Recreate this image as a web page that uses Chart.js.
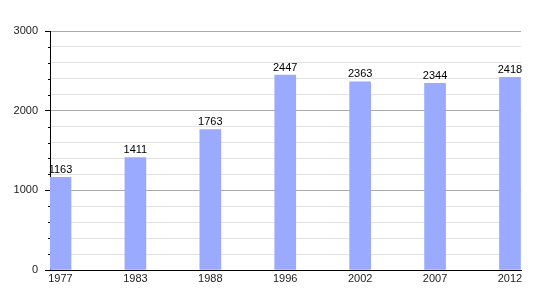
<!DOCTYPE html>
<html><head><meta charset="utf-8">
<script src="https://cdn.jsdelivr.net/npm/chart.js@4"></script>
<style>html,body{margin:0;padding:0;background:#fff}#wrap{width:550px;height:300px}</style>
</head><body><div id="wrap"><canvas id="c"></canvas></div>
<script>
const years = ['1977','1983','1988','1996','2002','2007','2012'];
const population = [1163, 1411, 1763, 2447, 2363, 2344, 2418];
const yTicks = [0, 1000, 2000, 3000];

const FONT = {family: '"Liberation Sans", Arial, sans-serif', size: 11};

const labelPlugin = {
  id: 'labels',
  afterDatasetsDraw(chart) {
    const ctx = chart.ctx;
    const meta = chart.getDatasetMeta(0);
    ctx.save();
    ctx.font = '11px "Liberation Sans", Arial, sans-serif';
    ctx.fillStyle = '#000';
    ctx.textAlign = 'center';
    ctx.textBaseline = 'bottom';
    meta.data.forEach((el, i) => {
      ctx.fillText(String(population[i]), el.x, el.y - 2);
    });
    const ys = chart.scales.y;
    ctx.strokeStyle = '#000';
    ctx.lineWidth = 1;
    ys.ticks.forEach(t => {
      if (t.value % 1000 !== 0) {
        const py = Math.round(ys.getPixelForValue(t.value)) + 0.5;
        ctx.beginPath();
        ctx.moveTo(ys.right - 2, py);
        ctx.lineTo(ys.right, py);
        ctx.stroke();
      }
    });
    ctx.restore();
  }
};

new Chart(document.getElementById('c'), {
  type: 'bar',
  data: {
    datasets: [{
      data: population.map((v, i) => ({x: i, y: v})),
      backgroundColor: 'rgb(153,170,255)',
      barThickness: 21
    }]
  },
  options: {
    responsive: true,
    maintainAspectRatio: false,
    animation: false,
    layout: {padding: {top: 31, right: 29, left: 0, bottom: 0}},
    plugins: {legend: {display: false}, tooltip: {enabled: false}},
    scales: {
      x: {
        type: 'linear',
        offset: false,
        min: -0.14,
        max: 6.147,
        afterBuildTicks: s => { s.ticks = years.map((y, i) => ({value: i})); },
        afterFit: s => { s.height = 30; },
        ticks: {
          callback: v => years[v],
          font: FONT, color: '#222', padding: 2, maxRotation: 0, autoSkip: false
        },
        grid: {display: false, drawTicks: false},
        border: {color: '#000', width: 1}
      },
      y: {
        min: 0, max: 3000,
        afterFit: s => { s.width = 50; },
        ticks: {
          stepSize: 200,
          maxTicksLimit: 30,
          autoSkip: false,
          callback: v => (yTicks.includes(v) ? String(v) : ''),
          font: FONT, color: '#222', padding: 7
        },
        grid: {
          color: ctx => (ctx.tick && ctx.tick.value % 1000 === 0) ? '#aaaaaa' : '#e2e2e2',
          tickColor: ctx => (ctx.tick && ctx.tick.value % 1000 === 0) ? '#000' : 'rgba(0,0,0,0)',
          tickLength: 5
        },
        border: {color: '#000', width: 1}
      }
    }
  },
  plugins: [labelPlugin]
});
</script>
</body></html>
